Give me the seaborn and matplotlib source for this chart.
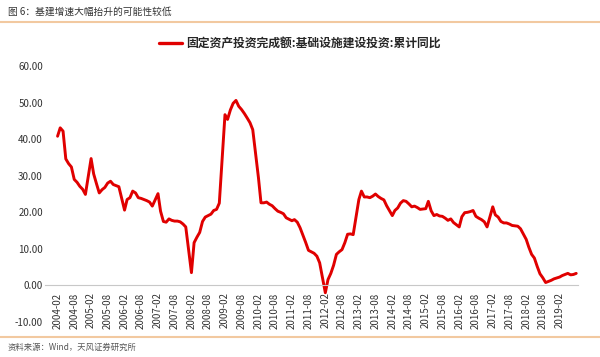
import matplotlib
matplotlib.use("Agg")
import matplotlib.pyplot as plt
from matplotlib.lines import Line2D
import numpy as np
import pandas as pd
import seaborn as sns

# ---------------- data ----------------
title_text = "图 6：基建增速大幅抬升的可能性较低"
source_text = "资料来源：Wind，天风证券研究所"
series_name = "固定资产投资完成额:基础设施建设投资:累计同比"

# cumulative YoY (%), Feb..Dec each year (no January release)
yoy_2004 = [40.8, 43.1, 42.2, 34.6, 33.3, 32.4, 29.0, 28.2, 27.1, 26.3, 24.9]
yoy_2005 = [34.7, 30.5, 27.8, 25.3, 26.2, 26.8, 28.0, 28.5, 27.6, 27.3, 27.0]
yoy_2006 = [20.6, 23.5, 24.0, 25.8, 25.3, 24.0, 23.8, 23.5, 23.2, 22.8, 21.7]
yoy_2007 = [25.1, 20.3, 17.5, 17.3, 18.2, 17.8, 17.6, 17.6, 17.4, 16.8, 16.0]
yoy_2008 = [3.5, 11.7, 13.2, 14.5, 17.5, 18.7, 19.1, 19.5, 20.5, 20.8, 22.5]
yoy_2009 = [46.7, 45.4, 48.0, 49.8, 50.6, 49.0, 48.1, 47.0, 45.8, 44.5, 42.6]
yoy_2010 = [29.5, 22.6, 22.6, 22.8, 22.2, 21.8, 21.0, 20.3, 20.0, 19.6, 18.5]
yoy_2011 = [17.7, 18.0, 17.3, 15.8, 13.8, 11.8, 9.6, 9.2, 8.8, 8.0, 6.2]
yoy_2012 = [-2.0, 1.6, 3.3, 5.5, 8.5, 9.2, 9.8, 11.7, 14.0, 14.1, 13.9]
yoy_2013 = [23.5, 25.8, 24.2, 24.2, 24.0, 24.4, 25.0, 24.3, 23.8, 23.4, 21.8]
yoy_2014 = [19.1, 20.5, 21.2, 22.5, 23.2, 23.0, 22.3, 21.5, 21.7, 21.3, 20.8]
yoy_2015 = [21.0, 23.0, 20.4, 19.1, 19.4, 19.0, 18.9, 18.4, 17.8, 18.2, 17.2]
yoy_2016 = [16.0, 18.8, 19.9, 20.0, 20.2, 20.5, 18.9, 18.4, 18.0, 17.4, 16.0]
yoy_2017 = [21.5, 19.3, 18.7, 17.5, 17.1, 17.1, 16.8, 16.4, 16.3, 16.2, 15.5]
yoy_2018 = [12.6, 10.5, 8.5, 7.5, 5.2, 3.2, 2.1, 0.8, 1.1, 1.4, 1.8]
yoy_2019 = [2.3, 2.7, 3.0, 3.3, 2.9, 3.0, 3.3]

yearly = {
    2004: yoy_2004, 2005: yoy_2005, 2006: yoy_2006, 2007: yoy_2007,
    2008: yoy_2008, 2009: yoy_2009, 2010: yoy_2010, 2011: yoy_2011,
    2012: yoy_2012, 2013: yoy_2013, 2014: yoy_2014, 2015: yoy_2015,
    2016: yoy_2016, 2017: yoy_2017, 2018: yoy_2018, 2019: yoy_2019,
}

y_ticks = [-10, 0, 10, 20, 30, 40, 50, 60]
x_tick_dates = pd.date_range("2004-02-01", "2019-02-01", freq="6MS")
x_tick_labels = [d.strftime("%Y-%m") for d in x_tick_dates]

# ---------------- build table ----------------
dates, values = [], []
for yr, vals in yearly.items():
    for i, v in enumerate(vals):
        dates.append(pd.Timestamp(year=yr, month=2 + i, day=1))
        values.append(v)
df = pd.DataFrame({"date": dates, "yoy": values})

# ---------------- style ----------------
sns.set_theme(style="white")
plt.rcParams["font.family"] = ["Noto Sans CJK SC", "DejaVu Sans"]
plt.rcParams["axes.unicode_minus"] = False

fig = plt.figure(figsize=(6.0, 3.57), dpi=100)
fig.patch.set_facecolor("white")
ax = fig.add_axes([0.075, 0.098, 0.888, 0.717])

sns.lineplot(data=df, x="date", y="yoy", ax=ax, color="#E00000",
             linewidth=2.1, label=series_name)

ax.set_ylim(-10, 60)
ax.set_yticks(y_ticks)
ax.set_yticklabels([f"{t:.2f}" for t in y_ticks])
ax.set_xlim(pd.Timestamp("2003-09-17"), pd.Timestamp("2019-08-18"))
ax.set_xticks(x_tick_dates)
ax.set_xticklabels(x_tick_labels)
ax.set_xlabel("")
ax.set_ylabel("")
ax.grid(False)

for s in ["left", "right", "top"]:
    ax.spines[s].set_visible(False)
ax.spines["bottom"].set_position(("data", 0))
ax.spines["bottom"].set_color("#c8c8c8")
ax.spines["bottom"].set_linewidth(0.8)

ax.tick_params(axis="x", length=3, width=0.6, color="#c8c8c8",
               labelsize=7, labelrotation=90, pad=2, labelcolor="#333333")
ax.tick_params(axis="y", length=0, labelsize=7, pad=1.5, labelcolor="#333333")

leg = ax.legend(loc="center", bbox_to_anchor=(0.5, 1 - 44 / 357),
                bbox_transform=fig.transFigure, frameon=False,
                prop={"weight": "bold", "size": 8.5},
                handlelength=1.9, handletextpad=0.35)
for line in leg.get_lines():
    line.set_linewidth(2.4)

fig.text(0.013, 1 - 12 / 357, title_text, fontsize=7, va="center",
         ha="left", color="#333333")
fig.add_artist(Line2D([0, 1], [1 - 22 / 357] * 2, color="#f2c9a0", lw=1.5))
fig.add_artist(Line2D([0, 1], [1 - 337 / 357] * 2, color="#f2c9a0", lw=1.5))
fig.text(0.012, 1 - 347 / 357, source_text, fontsize=6, va="center",
         ha="left", color="#555555")

fig.savefig("out.png", dpi=100, facecolor="white")
